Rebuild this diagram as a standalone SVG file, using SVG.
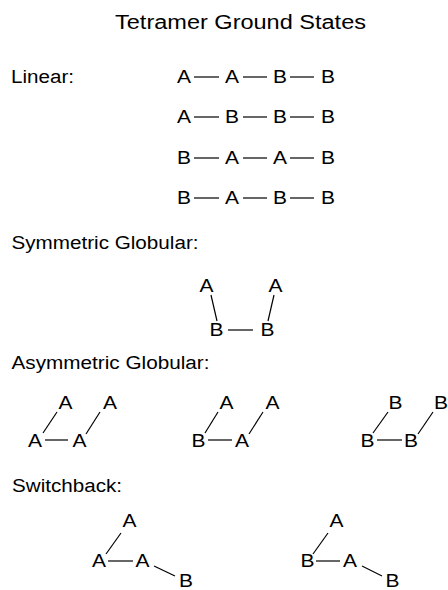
<svg xmlns="http://www.w3.org/2000/svg" width="448" height="590" viewBox="0 0 448 590">
<style>
text{font-family:"Liberation Sans",Arial,sans-serif;fill:#000}
.t{font-size:19.5px}
.h{font-size:18px}
.n{font-size:18.5px;text-anchor:middle}
.c line{stroke:#000;stroke-width:1.2}
</style>
<rect width="448" height="590" fill="#fff"/>
<text class="t" x="115" y="29" textLength="251" lengthAdjust="spacingAndGlyphs">Tetramer Ground States</text>
<text class="h" x="11" y="83" textLength="63" lengthAdjust="spacingAndGlyphs">Linear:</text>
<text class="h" x="11.5" y="249" textLength="187" lengthAdjust="spacingAndGlyphs">Symmetric Globular:</text>
<text class="h" x="11.5" y="369" textLength="198" lengthAdjust="spacingAndGlyphs">Asymmetric Globular:</text>
<text class="h" x="12" y="492" textLength="110" lengthAdjust="spacingAndGlyphs">Switchback:</text>

<g id="linear1"><text class="n" x="184" y="83" textLength="14" lengthAdjust="spacingAndGlyphs">A</text><text class="n" x="232" y="83" textLength="14" lengthAdjust="spacingAndGlyphs">A</text><text class="n" x="280" y="83" textLength="14" lengthAdjust="spacingAndGlyphs">B</text><text class="n" x="328" y="83" textLength="14" lengthAdjust="spacingAndGlyphs">B</text></g>
<g id="linear2"><text class="n" x="184" y="123" textLength="14" lengthAdjust="spacingAndGlyphs">A</text><text class="n" x="232" y="123" textLength="14" lengthAdjust="spacingAndGlyphs">B</text><text class="n" x="280" y="123" textLength="14" lengthAdjust="spacingAndGlyphs">B</text><text class="n" x="328" y="123" textLength="14" lengthAdjust="spacingAndGlyphs">B</text></g>
<g id="linear3"><text class="n" x="184" y="164" textLength="14" lengthAdjust="spacingAndGlyphs">B</text><text class="n" x="232" y="164" textLength="14" lengthAdjust="spacingAndGlyphs">A</text><text class="n" x="280" y="164" textLength="14" lengthAdjust="spacingAndGlyphs">A</text><text class="n" x="328" y="164" textLength="14" lengthAdjust="spacingAndGlyphs">B</text></g>
<g id="linear4"><text class="n" x="184" y="204" textLength="14" lengthAdjust="spacingAndGlyphs">B</text><text class="n" x="232" y="204" textLength="14" lengthAdjust="spacingAndGlyphs">A</text><text class="n" x="280" y="204" textLength="14" lengthAdjust="spacingAndGlyphs">B</text><text class="n" x="328" y="204" textLength="14" lengthAdjust="spacingAndGlyphs">B</text></g>

<g id="symmetric"><text class="n" x="206.5" y="292" textLength="14" lengthAdjust="spacingAndGlyphs">A</text><text class="n" x="275.5" y="292" textLength="14" lengthAdjust="spacingAndGlyphs">A</text><text class="n" x="216.5" y="336" textLength="14" lengthAdjust="spacingAndGlyphs">B</text><text class="n" x="267.5" y="336" textLength="14" lengthAdjust="spacingAndGlyphs">B</text></g>

<g id="asym1"><text class="n" x="65.5" y="409" textLength="14" lengthAdjust="spacingAndGlyphs">A</text><text class="n" x="110" y="409" textLength="14" lengthAdjust="spacingAndGlyphs">A</text><text class="n" x="35" y="447" textLength="14" lengthAdjust="spacingAndGlyphs">A</text><text class="n" x="79.5" y="447" textLength="14" lengthAdjust="spacingAndGlyphs">A</text></g>
<g id="asym2"><text class="n" x="226.5" y="409" textLength="14" lengthAdjust="spacingAndGlyphs">A</text><text class="n" x="272.5" y="409" textLength="14" lengthAdjust="spacingAndGlyphs">A</text><text class="n" x="198.5" y="447" textLength="14" lengthAdjust="spacingAndGlyphs">B</text><text class="n" x="242" y="447" textLength="14" lengthAdjust="spacingAndGlyphs">A</text></g>
<g id="asym3"><text class="n" x="395.5" y="409" textLength="14" lengthAdjust="spacingAndGlyphs">B</text><text class="n" x="441" y="409" textLength="14" lengthAdjust="spacingAndGlyphs">B</text><text class="n" x="367.5" y="447" textLength="14" lengthAdjust="spacingAndGlyphs">B</text><text class="n" x="411" y="447" textLength="14" lengthAdjust="spacingAndGlyphs">B</text></g>

<g id="switch1"><text class="n" x="129.5" y="527" textLength="14" lengthAdjust="spacingAndGlyphs">A</text><text class="n" x="99" y="567" textLength="14" lengthAdjust="spacingAndGlyphs">A</text><text class="n" x="142.5" y="567" textLength="14" lengthAdjust="spacingAndGlyphs">A</text><text class="n" x="186" y="587" textLength="14" lengthAdjust="spacingAndGlyphs">B</text></g>
<g id="switch2"><text class="n" x="336.5" y="527" textLength="14" lengthAdjust="spacingAndGlyphs">A</text><text class="n" x="307.5" y="567" textLength="14" lengthAdjust="spacingAndGlyphs">B</text><text class="n" x="350" y="567" textLength="14" lengthAdjust="spacingAndGlyphs">A</text><text class="n" x="392.5" y="587" textLength="14" lengthAdjust="spacingAndGlyphs">B</text></g>

<g id="connectors" class="c">
<line x1="194" y1="77" x2="219" y2="77"/><line x1="243" y1="77" x2="267" y2="77"/><line x1="290" y1="77" x2="314" y2="77"/>
<line x1="194" y1="117" x2="219" y2="117"/><line x1="243" y1="117" x2="267" y2="117"/><line x1="290" y1="117" x2="314" y2="117"/>
<line x1="194" y1="158" x2="219" y2="158"/><line x1="243" y1="158" x2="267" y2="158"/><line x1="290" y1="158" x2="314" y2="158"/>
<line x1="194" y1="198" x2="219" y2="198"/><line x1="243" y1="198" x2="267" y2="198"/><line x1="290" y1="198" x2="314" y2="198"/>
<line x1="211" y1="295" x2="217" y2="321"/><line x1="274" y1="295" x2="268" y2="321"/><line x1="228" y1="330" x2="253" y2="330"/>
<line x1="57" y1="412" x2="43" y2="433"/><line x1="100" y1="412" x2="86" y2="434"/><line x1="45" y1="440" x2="68" y2="440"/>
<line x1="218" y1="412" x2="205" y2="433"/><line x1="263" y1="412" x2="249" y2="434"/><line x1="208" y1="440" x2="232" y2="440"/>
<line x1="388" y1="412" x2="373" y2="433"/><line x1="433" y1="412" x2="418" y2="434"/><line x1="377" y1="440" x2="402" y2="440"/>
<line x1="121" y1="533" x2="106" y2="554"/><line x1="108" y1="561" x2="133" y2="561"/><line x1="154" y1="566" x2="175" y2="576"/>
<line x1="328" y1="533" x2="313" y2="554"/><line x1="316" y1="561" x2="340" y2="561"/><line x1="362" y1="566" x2="382" y2="576"/>
</g>
</svg>
